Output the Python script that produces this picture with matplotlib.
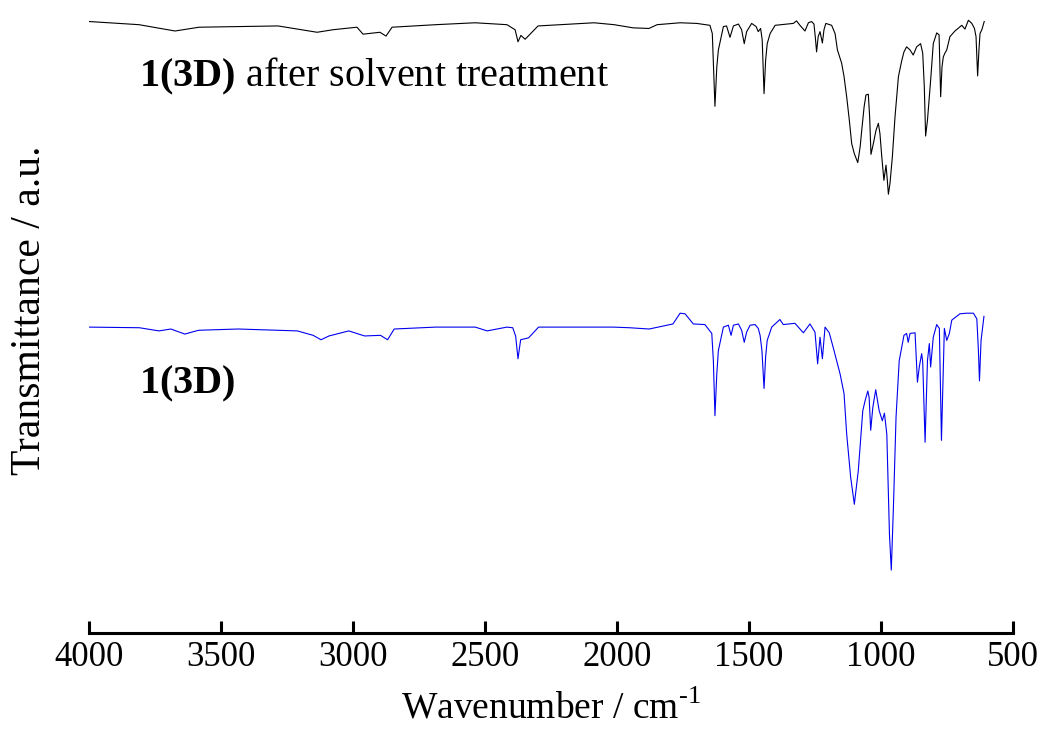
import matplotlib.pyplot as plt

# Config
plt.rcParams["font.family"] = ["Liberation Serif", "DejaVu Serif"]
plt.rcParams["mathtext.fontset"] = "custom"
plt.rcParams["mathtext.rm"] = "Liberation Serif"
plt.rcParams["mathtext.bf"] = "Liberation Serif:bold"

# Espectro de 1(3D) apos tratamento com solvente (preto)
wn_tratado = [4000, 3811, 3674, 3583, 3284, 3136, 3076, 2985, 2962, 2898,
              2875, 2852, 2686, 2538, 2417, 2386, 2375, 2364, 2348, 2299,
              2087, 2011, 1939, 1879, 1848, 1761, 1698, 1648, 1639, 1629,
              1622, 1616, 1597, 1585, 1572, 1559, 1540, 1528, 1518, 1509,
              1490, 1473, 1465, 1456, 1450, 1443, 1437, 1431, 1420, 1401,
              1357, 1332, 1320, 1307, 1288, 1275, 1263, 1254, 1249, 1244,
              1238, 1231, 1222, 1216, 1209, 1187, 1174, 1165, 1149, 1140,
              1130, 1120, 1111, 1101, 1088, 1079, 1073, 1064, 1057, 1048,
              1043, 1038, 1029, 1019, 1010, 1004, 997, 989, 981, 976,
              972, 966, 957, 947, 934, 921, 913, 903, 890, 878,
              865, 850, 842, 836, 831, 824, 812, 802, 789, 780,
              774, 769, 764, 758, 751, 739, 720, 694, 682, 669,
              656, 646, 640, 634, 629, 625, 618, 609]
t_tratado = [96.6, 96.1, 95.1, 95.7, 95.9, 94.9, 95.3, 95.7, 94.6, 94.9,
             94.3, 95.7, 96.1, 96.4, 96.1, 95.3, 93.4, 94.4, 93.8, 95.9,
             96.4, 96.1, 95.6, 95.5, 96.1, 96.4, 96.3, 96.0, 94.7, 83.2,
             89.4, 92.1, 95.8, 95.9, 94.1, 95.9, 96.2, 95.3, 93.1, 95.0,
             96.3, 95.8, 95.0, 95.5, 93.7, 85.2, 90.5, 93.1, 94.7, 96.0,
             96.2, 96.3, 96.7, 96.0, 95.1, 96.4, 96.6, 96.2, 94.2, 91.8,
             94.2, 95.0, 93.2, 95.3, 96.3, 96.0, 94.7, 92.1, 90.0, 87.9,
             84.7, 81.0, 77.3, 75.7, 74.3, 76.8, 79.4, 83.1, 85.0, 85.1,
             81.5, 75.6, 77.3, 79.4, 80.5, 78.9, 75.2, 71.5, 73.9, 71.5,
             69.3, 71.0, 75.2, 81.5, 87.9, 90.5, 91.8, 92.6, 92.1, 91.3,
             92.6, 93.1, 91.6, 86.3, 78.5, 81.0, 87.3, 93.1, 94.8, 94.5,
             84.7, 89.4, 91.0, 91.6, 92.1, 94.2, 95.1, 96.0, 95.4, 96.8,
             96.3, 95.5, 94.2, 88.0, 92.1, 94.7, 95.3, 96.6]

# Espectro de 1(3D) (azul)
wn_original = [4000, 3809, 3735, 3690, 3637, 3585, 3435, 3211, 3151, 3121,
               3091, 3016, 2956, 2896, 2869, 2844, 2687, 2537, 2492, 2417,
               2395, 2384, 2375, 2365, 2335, 2297, 2013, 1953, 1878, 1788,
               1761, 1742, 1711, 1667, 1641, 1635, 1629, 1622, 1616, 1597,
               1578, 1568, 1559, 1540, 1528, 1518, 1509, 1496, 1477, 1465,
               1458, 1451, 1443, 1437, 1431, 1414, 1383, 1370, 1326, 1294,
               1269, 1250, 1240, 1231, 1222, 1212, 1196, 1178, 1155, 1140,
               1130, 1115, 1101, 1086, 1069, 1060, 1050, 1045, 1039, 1031,
               1020, 1007, 995, 987, 978, 968, 961, 953, 943, 931,
               913, 903, 897, 890, 871, 862, 855, 846, 842, 833,
               824, 817, 812, 802, 789, 779, 771, 760, 751, 741,
               732, 701, 675, 650, 637, 631, 627, 621, 610]
t_original = [48.3, 48.2, 47.7, 48.0, 47.2, 47.8, 48.0, 47.7, 47.0, 46.3,
              46.9, 47.7, 46.9, 47.0, 46.3, 48.0, 48.3, 48.3, 47.7, 48.3,
              48.2, 46.9, 43.3, 46.3, 46.6, 48.3, 48.3, 48.2, 48.0, 48.8,
              50.5, 50.4, 48.8, 48.7, 47.3, 43.0, 34.3, 40.9, 44.6, 48.3,
              48.6, 47.0, 48.6, 48.8, 47.8, 45.9, 47.5, 48.6, 48.7, 48.1,
              47.0, 44.6, 38.6, 43.6, 46.2, 48.3, 49.5, 48.7, 48.9, 47.4,
              48.8, 47.5, 42.5, 46.7, 43.3, 48.3, 47.4, 44.6, 40.9, 37.8,
              31.4, 24.6, 20.3, 25.6, 35.1, 36.7, 38.2, 37.2, 32.0, 35.6,
              38.4, 35.1, 33.5, 34.7, 31.4, 15.6, 9.9, 19.8, 34.1, 43.0,
              47.0, 47.3, 45.9, 47.3, 47.4, 39.6, 42.0, 44.1, 42.8, 30.1,
              43.0, 45.7, 42.0, 46.7, 48.7, 48.1, 30.4, 48.1, 46.2, 47.3,
              49.4, 50.4, 50.5, 50.5, 49.6, 44.6, 39.8, 46.2, 50.0]

ticks_x = [4000, 3500, 3000, 2500, 2000, 1500, 1000, 500]

fig = plt.figure(figsize=(10.42, 7.34), dpi=100)
ax = fig.add_axes([89 / 1042, 101.3 / 734, 924 / 1042, 632.7 / 734])

ax.plot(wn_tratado, t_tratado, color="black", lw=0.8)
ax.plot(wn_original, t_original, color="#0000ee", lw=0.8)

ax.text(3811, 86.3, r"$\mathbf{1(3D)}$ after solvent treatment", fontsize=29)
ax.text(3811, 37.8, r"$\mathbf{1(3D)}$", fontsize=29)

ax.set_xlim(4000, 500)
ax.set_ylim(0, 100)
ax.set_xticks(ticks_x)
ax.set_yticks([])
for s in ["top", "left", "right"]:
    ax.spines[s].set_visible(False)
ax.spines["bottom"].set_linewidth(2.2)
ax.tick_params(axis="x", direction="in", length=8.6, width=2.2, labelsize=25, pad=6)

ax.set_xlabel(r"Wavenumber / cm$^{\text{-}1}$", fontsize=27, labelpad=12)
ax.set_ylabel("Transmittance / a.u.", fontsize=30)
ax.yaxis.set_label_coords(-0.043, 0.51)

plt.savefig("out.png", dpi=100)
